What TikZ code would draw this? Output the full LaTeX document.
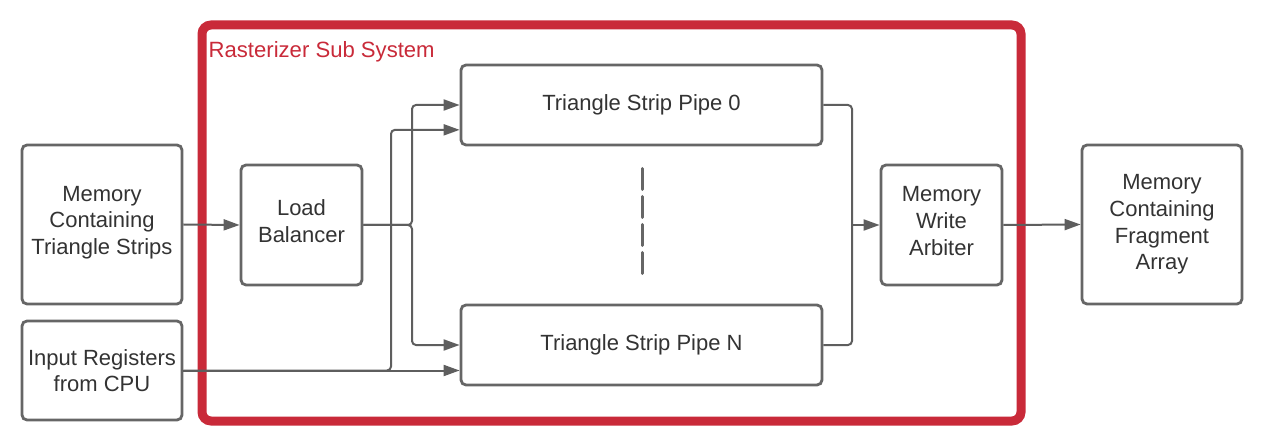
\documentclass[tikz,border=0pt]{standalone}
\usepackage{fontspec}
\setmainfont{Liberation Sans}
\usetikzlibrary{arrows.meta,calc}
\definecolor{lucidred}{HTML}{C92A39}
\definecolor{boxgray}{HTML}{666666}
\definecolor{linegray}{HTML}{5E5E5E}
\definecolor{txt}{HTML}{333333}
\begin{document}
\begin{tikzpicture}[x=1pt,y=-1pt,
  box/.style={draw=boxgray, line width=2.8pt, rounded corners=5pt, align=center,
    text=txt, font=\fontsize{22}{26.7}\selectfont, inner sep=0pt},
  conn/.style={draw=linegray, line width=2pt, rounded corners=4pt,
    -{Triangle[length=16pt,width=11pt]}},
  plain/.style={draw=linegray, line width=2pt, rounded corners=4pt}]
\useasboundingbox (0,0) rectangle (1263,446);
\fill[white] (0,0) rectangle (1263,446);
% subsystem frame
\draw[lucidred, line width=9pt, rounded corners=9pt] (202,25) rectangle (1021,421);
\node[anchor=west, text=lucidred, font=\fontsize{22.1}{26}\selectfont, inner sep=0pt] (title) at (208.5,52) {Rasterizer Sub System};
% boxes
\node[box, minimum width=160pt, minimum height=159pt, text depth=8.5pt] (memts) at (102,224.5) {Memory\\Containing\\Triangle Strips};
\node[box, minimum width=160pt, minimum height=99pt] (inreg) at (102,370.5) {Input Registers\\from CPU};
\node[box, minimum width=121pt, minimum height=120pt, text depth=8pt] (lb) at (301.5,225) {Load\\Balancer};
\node[box, minimum width=361pt, minimum height=80pt] (pipe0) at (641.5,105) {Triangle Strip Pipe 0};
\node[box, minimum width=361pt, minimum height=80pt] (pipeN) at (641.5,345) {Triangle Strip Pipe N};
\node[box, minimum width=121pt, minimum height=120pt, text depth=8pt] (arb) at (941.5,225) {Memory\\Write\\Arbiter};
\node[box, minimum width=160pt, minimum height=159pt] (frag) at (1162,224.5) {Memory\\Containing\\Fragment\\Array};
% dashed ellipsis
\coordinate (dtop) at (642,168.5);
\coordinate (dbot) at (642,273.5);
\draw[boxgray, line width=3pt, line cap=round, dash pattern=on 21pt off 7pt] (dtop) -- (dbot);
% connectors
\draw[conn] (memts.east) -- (lb.west);
\coordinate (lbsplit) at (412,225);
\draw[conn] (lb.east) -- (lbsplit) |- (pipe0.west);
\draw[conn] (lb.east) -- (lbsplit) |- (pipeN.west);
\coordinate (p0in) at ($(pipe0.south west)!0.2!(pipe0.north west)$);
\coordinate (irsplit) at (391,370.5);
\draw[conn] (inreg.east) -- (irsplit) |- (p0in);
\draw[conn] (inreg.east) -- (pipeN.west |- inreg.east);
\coordinate (arbsplit) at (852,225);
\draw[plain] (pipe0.east) -| (arbsplit);
\draw[plain] (pipeN.east) -| (arbsplit);
\draw[conn] ($(arbsplit)+(-0.1,0)$) -- (arb.west);
\draw[conn] (arb.east) -- (frag.west);
\end{tikzpicture}
\end{document}
